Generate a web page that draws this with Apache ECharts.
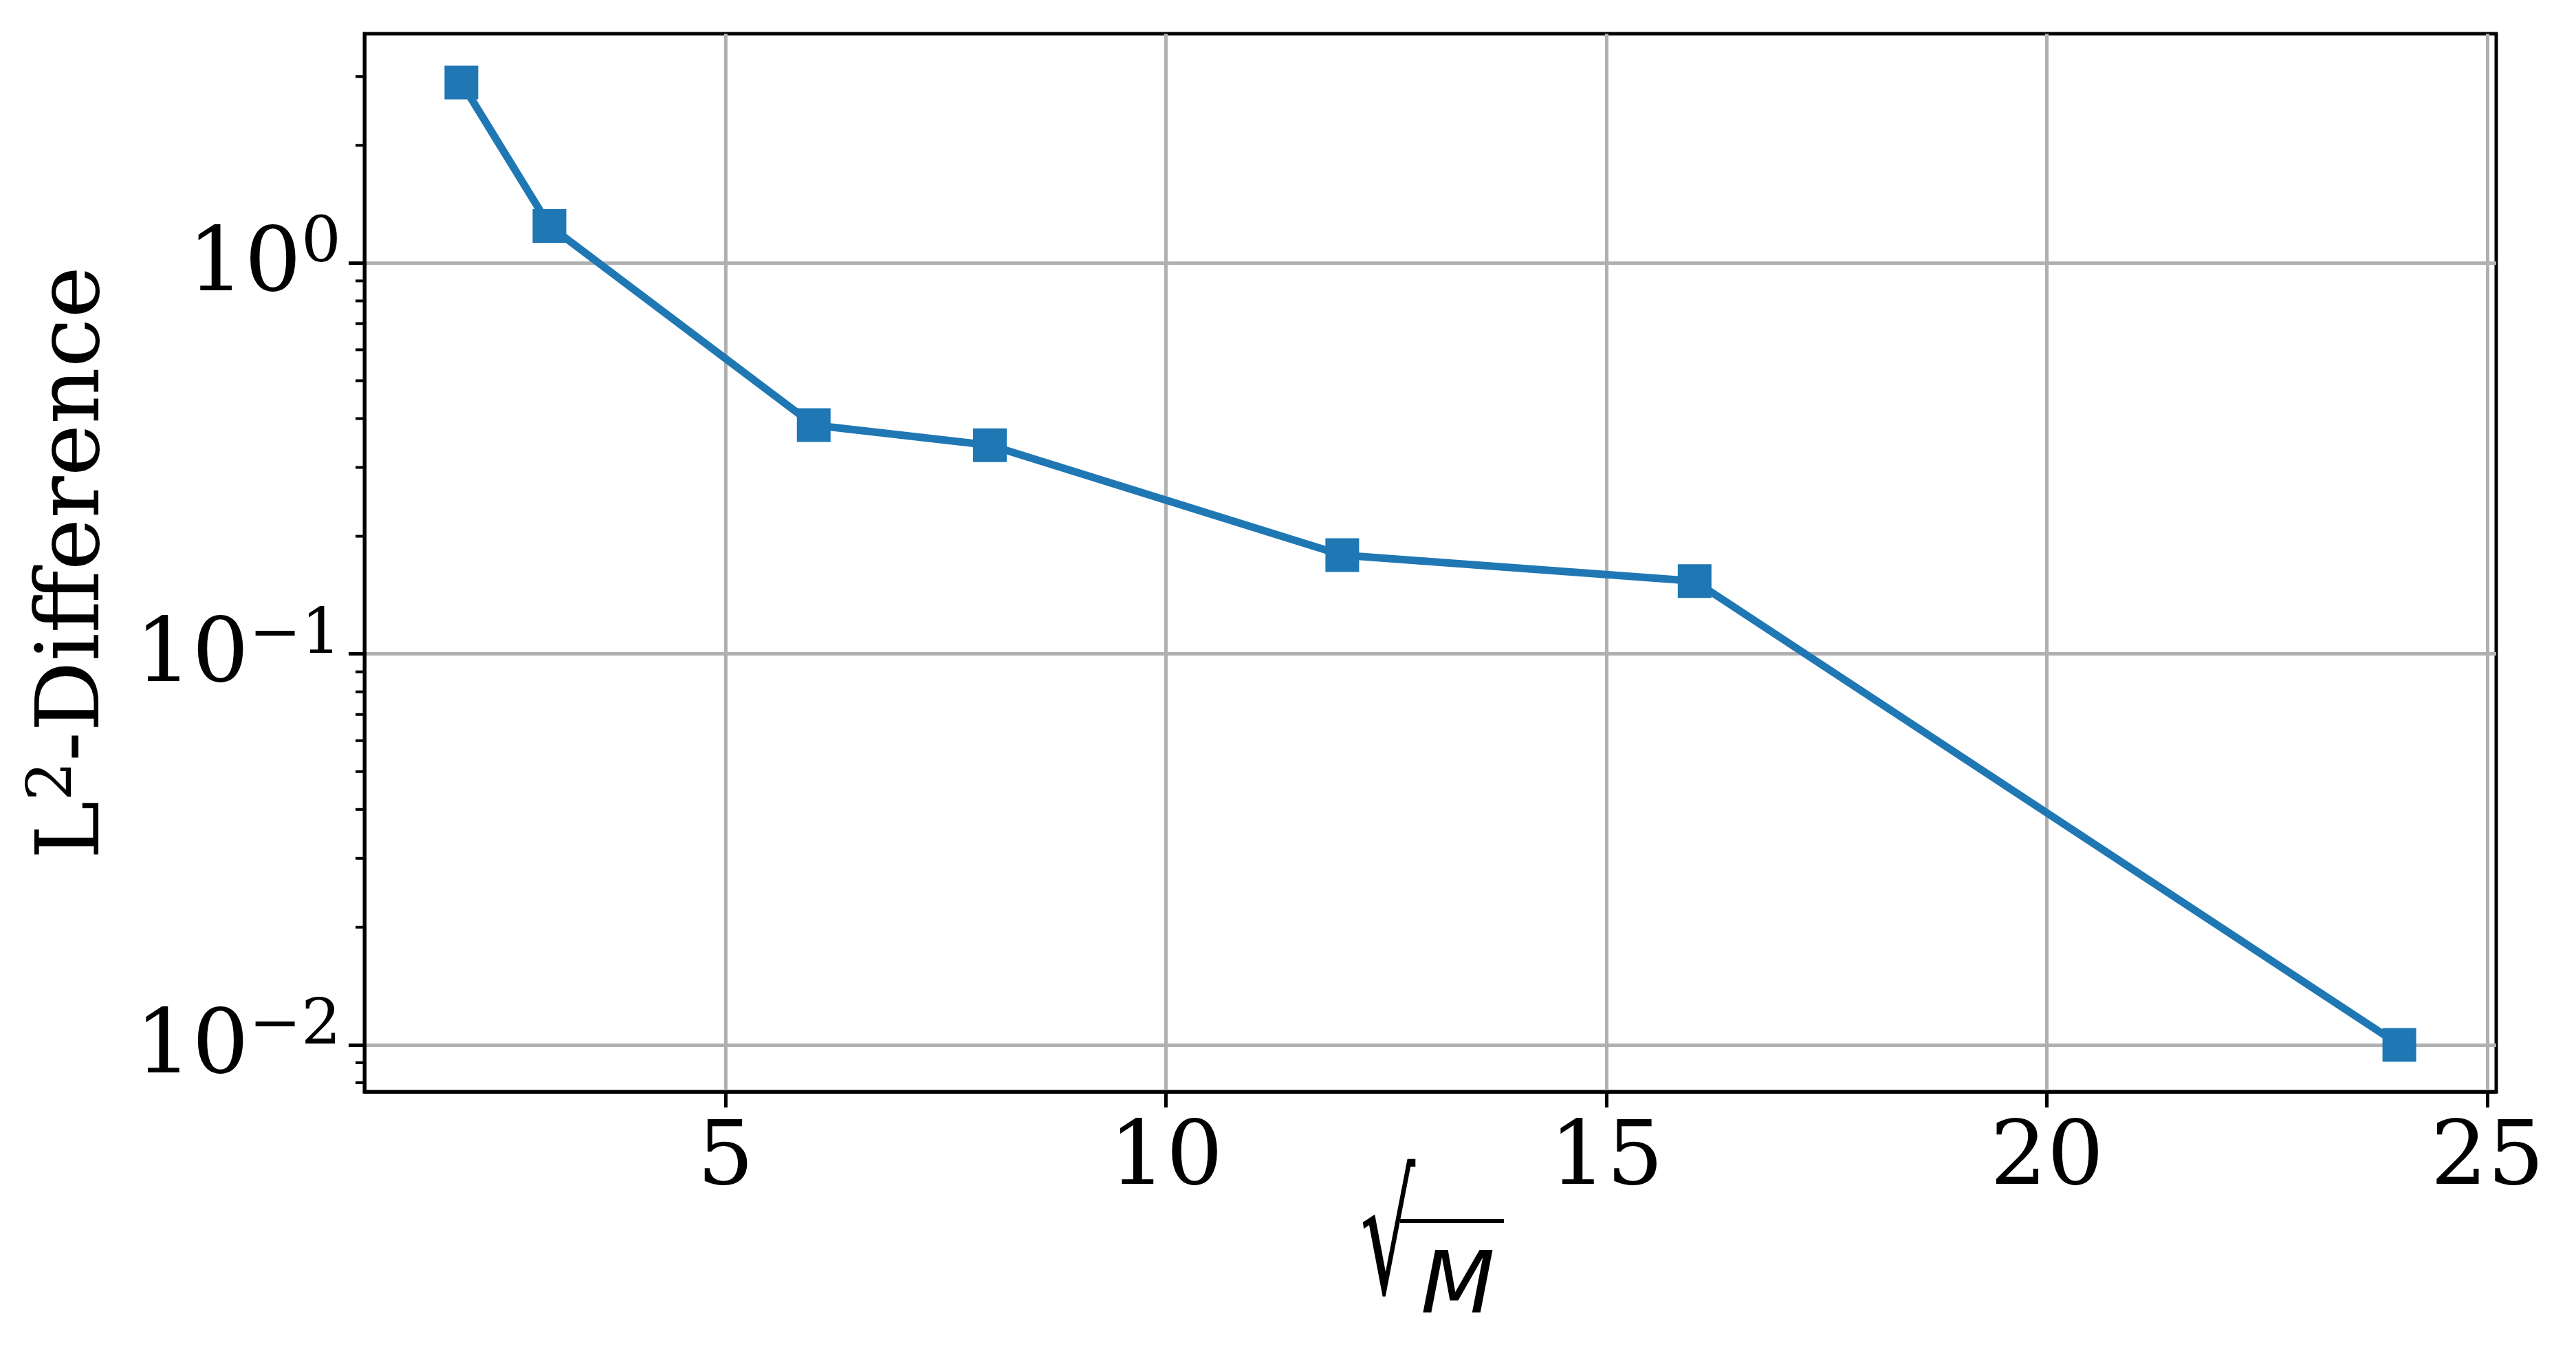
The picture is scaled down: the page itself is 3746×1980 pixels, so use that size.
<!DOCTYPE html>
<html>
<head>
<meta charset="utf-8">
<script src="https://cdn.jsdelivr.net/npm/echarts@6/dist/echarts.min.js"></script>
<style>
html,body{margin:0;padding:0;background:#fff;}
#chart{width:3746px;height:1980px;}
</style>
</head>
<body>
<div id="chart"></div>
<script>
// ---- data ----
const sqrtM = [2, 3, 6, 8, 12, 16, 24];
const l2Diff = [2.895, 1.244, 0.385, 0.342, 0.179, 0.1536, 0.01];
const xTickValues = [5, 10, 15, 20, 25];
const yTickValues = [0.01, 0.1, 1];
const yMinorTickValues = [0.008, 0.009,
  0.02, 0.03, 0.04, 0.05, 0.06, 0.07, 0.08, 0.09,
  0.2, 0.3, 0.4, 0.5, 0.6, 0.7, 0.8, 0.9,
  2, 3];
const X_MIN = 0.9, X_MAX = 25.1;
const Y_MIN = 0.00759, Y_MAX = 3.86;

const SERIF = "'DejaVu Serif', serif";
const SANS = "'DejaVu Sans', sans-serif";

function isTick(v, list) {
  return list.some(t => Math.abs(v - t) / t < 1e-6);
}
function powLabel(v) {
  const e = Math.round(Math.log10(v));
  const es = e < 0 ? '\u2212' + (-e) : String(e);
  return '{b|10}{s|' + es + '}';
}

const chart = echarts.init(document.getElementById('chart'), null, {renderer: 'canvas'});

const option = {
  animation: false,
  backgroundColor: '#ffffff',
  grid: {
    left: 530, right: 116, top: 49, bottom: 393,
    show: true, borderColor: '#000', borderWidth: 5, backgroundColor: 'transparent'
  },
  xAxis: {
    type: 'value',
    min: X_MIN, max: X_MAX,
    splitNumber: 5,
    axisLine: {show: true, onZero: false, lineStyle: {color: '#000', width: 5}},
    axisTick: {show: true, customValues: xTickValues, length: 23, lineStyle: {color: '#000', width: 5}},
    axisLabel: {
      customValues: xTickValues,
      margin: 35,
      fontFamily: SERIF, fontSize: 130, lineHeight: 130, color: '#000',
      formatter: v => isTick(v, xTickValues) ? String(v) : ''
    },
    splitLine: {show: true, lineStyle: {color: '#b0b0b0', width: 5}}
  },
  yAxis: {
    type: 'log',
    logBase: 10,
    min: Y_MIN, max: Y_MAX,
    name: 'L{s|2}-Difference',
    nameLocation: 'middle',
    nameRotate: 90,
    nameGap: 345,
    nameTextStyle: {
      fontFamily: SERIF, fontSize: 128, color: '#000', lineHeight: 150,
      rich: {
        s: {fontFamily: SERIF, fontSize: 90, lineHeight: 80, verticalAlign: 'top', color: '#000'}
      }
    },
    axisLine: {show: true, onZero: false, lineStyle: {color: '#000', width: 5}},
    axisTick: {show: true, customValues: yTickValues, length: 23, lineStyle: {color: '#000', width: 5}},
    axisLabel: {
      margin: 34,
      color: '#000',
      formatter: v => isTick(v, yTickValues) ? powLabel(v) : '',
      rich: {
        b: {fontFamily: SERIF, fontSize: 130, lineHeight: 142, color: '#000', verticalAlign: 'bottom'},
        s: {fontFamily: SERIF, fontSize: 91, lineHeight: 91, color: '#000', verticalAlign: 'top'}
      }
    },
    splitLine: {show: true, lineStyle: {color: '#b0b0b0', width: 5}}
  },
  graphic: [
    {
      type: 'text', x: 1978, y: 1697, z: 10, scaleX: 0.9, scaleY: 1.72,
      style: {text: '\u221A', fontFamily: SANS, fontSize: 140, fill: '#000', align: 'left', verticalAlign: 'top'}
    },
    {
      type: 'text', x: 2066, y: 1813, z: 10,
      style: {text: 'M', fontFamily: SANS, fontStyle: 'italic', fontSize: 125, fill: '#000', align: 'left', verticalAlign: 'top'}
    },
    {
      type: 'line', z: 10,
      shape: {x1: 2036, y1: 1775, x2: 2187, y2: 1775},
      style: {stroke: '#000', lineWidth: 6}
    }
  ],
  series: [
    {
      type: 'custom',
      name: 'minorTicks',
      clip: false,
      silent: true,
      data: yMinorTickValues.map(v => [X_MIN, v]),
      renderItem: function (params, api) {
        const p = api.coord([api.value(0), api.value(1)]);
        return {
          type: 'line',
          shape: {x1: p[0] - 13, y1: p[1], x2: p[0], y2: p[1]},
          style: {stroke: '#000', lineWidth: 4}
        };
      }
    },
    {
      type: 'line',
      name: 'L2',
      data: sqrtM.map((x, i) => [x, l2Diff[i]]),
      symbol: 'rect',
      symbolSize: 49,
      showAllSymbol: true,
      lineStyle: {color: '#1f77b4', width: 11},
      itemStyle: {color: '#1f77b4'},
      z: 5
    }
  ]
};
chart.setOption(option);
</script>
</body>
</html>
